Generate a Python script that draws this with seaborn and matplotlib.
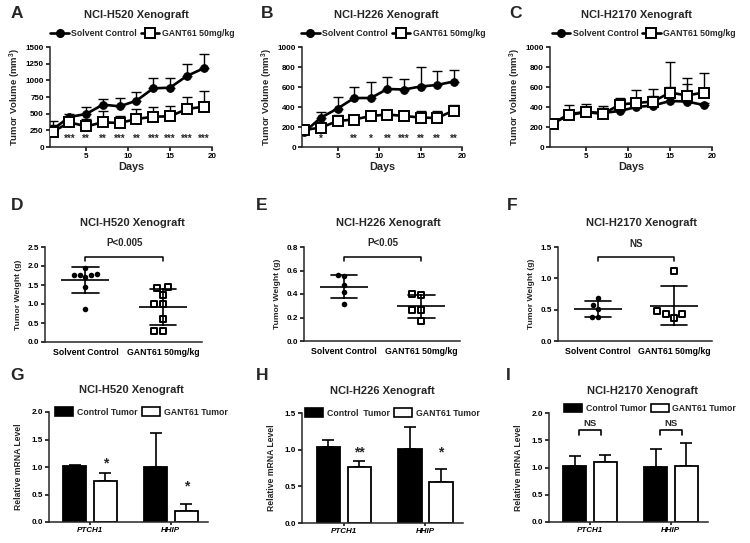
import numpy as np
import pandas as pd
import matplotlib
matplotlib.use("Agg")
import matplotlib.pyplot as plt
from matplotlib.patches import Patch
from matplotlib.lines import Line2D
import seaborn as sns

# ---------------- data ----------------
days = [1, 3, 5, 7, 9, 11, 13, 15, 17, 19]
series_names = ["Solvent Control", "GANT61 50mg/kg"]

a_ctrl = [260, 450, 495, 635, 610, 695, 880, 890, 1065, 1180]
a_ctrl_sd = [135, 40, 100, 90, 120, 130, 150, 140, 180, 210]
a_gant = [225, 370, 310, 370, 360, 420, 455, 460, 570, 605]
a_gant_sd = [110, 30, 110, 165, 110, 150, 145, 150, 180, 235]
a_star_days = [3, 5, 7, 9, 11, 13, 15, 17, 19]
a_stars = ["***", "**", "**", "***", "**", "***", "***", "***", "***"]

b_ctrl = [150, 295, 385, 490, 490, 580, 575, 605, 620, 655]
b_ctrl_sd = [20, 55, 120, 110, 165, 125, 105, 195, 140, 120]
b_gant = [170, 195, 260, 275, 310, 325, 310, 295, 290, 365]
b_gant_sd = [20, 20, 60, 45, 50, 20, 20, 65, 75, 55]
b_star_days = [3, 7, 9, 11, 13, 15, 17, 19]
b_stars = ["*", "**", "*", "**", "***", "**", "**", "**"]

c_ctrl = [235, 330, 350, 340, 360, 400, 415, 460, 455, 420]
c_ctrl_sd = [20, 45, 50, 75, 45, 40, 95, 140, 175, 25]
c_gant = [235, 320, 350, 330, 425, 440, 455, 545, 515, 545]
c_gant_sd = [20, 105, 85, 60, 65, 135, 130, 305, 175, 195]

groups = ["Solvent Control", "GANT61 50mg/kg"]
d_ctrl = [1.945, 1.78, 1.76, 1.72, 1.76, 1.76, 1.44, 0.87]
d_gant = [1.42, 1.45, 1.25, 1.00, 1.00, 0.61, 0.28, 0.30]
e_ctrl = [0.56, 0.55, 0.476, 0.417, 0.315]
e_gant = [0.39, 0.40, 0.26, 0.26, 0.17]
f_ctrl = [0.68, 0.57, 0.51, 0.39, 0.39]
f_gant = [1.12, 0.476, 0.43, 0.43, 0.365]

genes = ["PTCH1", "HHIP"]
g_ctrl = [1.01, 1.00]
g_ctrl_sd = [0.02, 0.62]
g_gant = [0.75, 0.195]
g_gant_sd = [0.15, 0.135]
h_ctrl = [1.04, 1.01]
h_ctrl_sd = [0.09, 0.30]
h_gant = [0.77, 0.555]
h_gant_sd = [0.07, 0.185]
i_ctrl = [1.03, 1.015]
i_ctrl_sd = [0.18, 0.325]
i_gant = [1.11, 1.03]
i_gant_sd = [0.12, 0.42]

# ---------------- style ----------------
sns.set_style("ticks")
plt.rcParams["font.family"] = ["Liberation Sans", "DejaVu Sans"]
plt.rcParams["font.weight"] = "bold"
plt.rcParams["axes.labelweight"] = "bold"
plt.rcParams["mathtext.default"] = "regular"
plt.rcParams["axes.linewidth"] = 1.1
plt.rcParams["xtick.major.width"] = 1.1
plt.rcParams["ytick.major.width"] = 1.1
plt.rcParams["xtick.major.size"] = 3
plt.rcParams["ytick.major.size"] = 3
plt.rcParams["xtick.major.pad"] = 1.5
plt.rcParams["ytick.major.pad"] = 1.5

W, H = 750, 543
fig = plt.figure(figsize=(W / 100, H / 100), dpi=100)


def ax_at(l, t, r, b):
    return fig.add_axes([l / W, 1 - b / H, (r - l) / W, (b - t) / H])


def letter(x, y, s):
    fig.text(x / W, 1 - y / H, s, fontsize=12.5, fontweight="bold", ha="center", va="center")


TICK_FS = 5.8
TITLE_FS = 8
LEG_FS = 6.3


def style_axes(ax, tick_fs=TICK_FS):
    sns.despine(ax=ax)
    ax.tick_params(labelsize=tick_fs, colors="black")
    for lab in ax.get_xticklabels() + ax.get_yticklabels():
        lab.set_fontweight("bold")


# ---------------- top row: growth curves ----------------
def growth(ax, ctrl, ctrl_sd, gant, gant_sd, ymax, ystep, title, tx, lx, stars_days=None, stars=None, star_y=0):
    df = pd.DataFrame({"day": days, "ctrl": ctrl, "gant": gant})
    ax.errorbar(days, ctrl, yerr=[np.zeros(len(days)), ctrl_sd], fmt="none", ecolor="black",
                elinewidth=1.0, capsize=3.5, capthick=1.0, zorder=1)
    ax.errorbar(days, gant, yerr=[np.zeros(len(days)), gant_sd], fmt="none", ecolor="black",
                elinewidth=1.0, capsize=3.5, capthick=1.0, zorder=1)
    sns.lineplot(data=df, x="day", y="ctrl", ax=ax, color="black", linewidth=1.9, marker="o",
                 markersize=5.5, markeredgecolor="black", markerfacecolor="black", zorder=3)
    sns.lineplot(data=df, x="day", y="gant", ax=ax, color="black", linewidth=1.9, marker="s",
                 markersize=7.2, markeredgecolor="black", markerfacecolor="white",
                 markeredgewidth=1.4, zorder=4)
    ax.set_xlim(0.7, 20)
    ax.set_ylim(0, ymax)
    ax.set_xticks([5, 10, 15, 20])
    ax.set_yticks(np.arange(0, ymax + 1, ystep))
    ax.set_xlabel("Days", fontsize=7.8, labelpad=1)
    ax.set_ylabel("Tumor Volume (mm$^3$)", fontsize=6.8, labelpad=2)
    style_axes(ax)
    ax.set_title(title, fontsize=TITLE_FS, fontweight="bold", x=tx, y=1.29, pad=0)
    handles = [Line2D([], [], color="black", lw=1.9, marker="o", markersize=5.5),
               Line2D([], [], color="black", lw=1.9, marker="s", markersize=7.2,
                      markerfacecolor="white", markeredgewidth=1.4)]
    ax.legend(handles, series_names, ncol=2, loc="center", bbox_to_anchor=(lx, 1.13),
              frameon=False, handlelength=2.1, handletextpad=0.3,
              columnspacing=0.4, borderaxespad=0, prop={"weight": "bold", "size": LEG_FS})
    if stars_days is not None:
        for d, s in zip(stars_days, stars):
            ax.text(d, star_y, s, ha="center", va="center", fontsize=7, fontweight="bold")


axA = ax_at(50, 47, 212, 147)
growth(axA, a_ctrl, a_ctrl_sd, a_gant, a_gant_sd, 1500, 250, "NCI-H520 Xenograft", 0.535, 0.57,
       a_star_days, a_stars, 125)
axB = ax_at(302, 47, 462, 147)
growth(axB, b_ctrl, b_ctrl_sd, b_gant, b_gant_sd, 1000, 200, "NCI-H226 Xenograft", 0.53, 0.57,
       b_star_days, b_stars, 85)
axC = ax_at(550, 47, 712, 147)
growth(axC, c_ctrl, c_ctrl_sd, c_gant, c_gant_sd, 1000, 200, "NCI-H2170 Xenograft", 0.535, 0.58)


# ---------------- middle row: tumor weights ----------------
def weights(ax, ctrl, gant, ymax, ystep, title, tx, br_y, br_h, ptxt, fmt):
    df = pd.DataFrame({"group": [groups[0]] * len(ctrl) + [groups[1]] * len(gant),
                       "w": list(ctrl) + list(gant)})
    sns.swarmplot(data=df[df.group == groups[0]], x="group", y="w", order=groups, ax=ax,
                  color="black", size=4.0, marker="o", linewidth=0, zorder=3)
    sns.swarmplot(data=df[df.group == groups[1]], x="group", y="w", order=groups, ax=ax,
                  color="white", edgecolor="black", size=5.0, marker="s", linewidth=1.4, zorder=3)
    sns.pointplot(data=df, x="group", y="w", order=groups, ax=ax, errorbar="sd", capsize=0.34,
                  color="black", marker="_", markersize=34, markeredgewidth=1.2,
                  linestyle="none", err_kws={"linewidth": 1.2}, zorder=4)
    ax.set_xlim(-0.52, 1.5)
    ax.set_ylim(0, ymax)
    ax.set_yticks(np.arange(0, ymax + 1e-9, ystep))
    ax.yaxis.set_major_formatter(plt.FormatStrFormatter(fmt))
    ax.set_xlabel("")
    ax.set_ylabel("Tumor Weight (g)", fontsize=6.1, labelpad=4)
    style_axes(ax, 5.9)
    ax.tick_params(axis="x", length=0, labelsize=6.3, pad=4)
    for lab in ax.get_xticklabels():
        lab.set_fontweight("bold")
    ax.set_title(title, fontsize=TITLE_FS, fontweight="bold", x=tx, y=1.22, pad=0)
    ax.plot([0, 0, 1, 1], [br_y - br_h, br_y, br_y, br_y - br_h], color="black", lw=1.1,
            clip_on=False)
    ax.text(0.5, br_y + br_h * 2.0, ptxt, ha="center", va="bottom", fontsize=7,
            fontweight="bold", clip_on=False)


axD = ax_at(45, 247, 202, 342)
weights(axD, d_ctrl, d_gant, 2.5, 0.5, "NCI-H520 Xenograft", 0.56, 2.24, 0.12, "P<0.005", "%.1f")
axE = ax_at(304, 247, 460, 341)
weights(axE, e_ctrl, e_gant, 0.8, 0.2, "NCI-H226 Xenograft", 0.54, 0.715, 0.037, "P<0.05", "%.1f")
axF = ax_at(558, 247, 712, 341)
weights(axF, f_ctrl, f_gant, 1.5, 0.5, "NCI-H2170 Xenograft", 0.54, 1.34, 0.068, "NS", "%.1f")


# ---------------- bottom row: mRNA ----------------
def mrna(ax, ctrl, ctrl_sd, gant, gant_sd, ymax, title, tx, lx, ly, legend_labels,
         stars=None, ns=None):
    df = pd.DataFrame({"gene": genes * 2,
                       "group": ["Control"] * 2 + ["GANT61"] * 2,
                       "val": list(ctrl) + list(gant)})
    sns.barplot(data=df, x="gene", y="val", hue="group", order=genes,
                hue_order=["Control", "GANT61"], palette=["black", "white"], ax=ax,
                edgecolor="black", linewidth=1.3, width=0.76, gap=0.25, errorbar=None,
                legend=False, zorder=2)
    sds = [ctrl_sd, gant_sd]
    centers = []
    for cont, vals, sd in zip(ax.containers, [ctrl, gant], sds):
        xs = [p.get_x() + p.get_width() / 2 for p in cont.patches]
        centers.append(xs)
        ax.errorbar(xs, vals, yerr=[np.zeros(len(vals)), sd], fmt="none", ecolor="black",
                    elinewidth=1.2, capsize=4.3, capthick=1.2, zorder=1)
    ax.set_xlim(-0.51, 1.46)
    ax.set_ylim(0, ymax)
    ax.set_yticks(np.arange(0, ymax + 1e-9, 0.5))
    ax.yaxis.set_major_formatter(plt.FormatStrFormatter("%.1f"))
    ax.set_xlabel("")
    ax.set_ylabel("Relative mRNA Level", fontsize=6.2, labelpad=6)
    style_axes(ax, 5.9)
    ax.tick_params(axis="x", length=2.5, labelsize=5.8, pad=1)
    for lab in ax.get_xticklabels():
        lab.set_fontweight("bold")
        lab.set_fontstyle("italic")
    ax.set_title(title, fontsize=TITLE_FS, fontweight="bold", x=tx, y=1.17, pad=0)
    handles = [Patch(facecolor="black", edgecolor="black", lw=1.2),
               Patch(facecolor="white", edgecolor="black", lw=1.2)]
    ax.legend(handles, legend_labels, ncol=2, loc="center", bbox_to_anchor=(lx, ly),
              frameon=False, handlelength=2.1, handleheight=1.1, handletextpad=0.4,
              columnspacing=0.5, borderaxespad=0, prop={"weight": "bold", "size": LEG_FS})
    if stars is not None:
        for gi, (s, y) in enumerate(stars):
            ax.text(centers[1][gi], y, s, ha="center", va="center", fontsize=10,
                    fontweight="bold")
    if ns is not None:
        for gi in range(len(genes)):
            c = (centers[0][gi] + centers[1][gi]) / 2
            x0, x1 = c - 0.14, c + 0.14
            ax.plot([x0, x0, x1, x1], [ns - 0.09, ns, ns, ns - 0.09], color="black", lw=1.2)
            ax.text(c, ns + 0.04, "NS", ha="center", va="bottom", fontsize=6.8, fontweight="bold")


axG = ax_at(49, 412, 208, 522)
mrna(axG, g_ctrl, g_ctrl_sd, g_gant, g_gant_sd, 2.0, "NCI-H520 Xenograft", 0.52, 0.58, 1.0,
     ["Control Tumor", "GANT61 Tumor"], stars=[("*", 1.06), ("*", 0.64)])
axH = ax_at(302, 413, 463, 523)
mrna(axH, h_ctrl, h_ctrl_sd, h_gant, h_gant_sd, 1.5, "NCI-H226 Xenograft", 0.5, 0.56, 1.0,
     ["Control  Tumor", "GANT61 Tumor"], stars=[("**", 0.96), ("*", 0.96)])
axI = ax_at(549, 413, 708, 522)
mrna(axI, i_ctrl, i_ctrl_sd, i_gant, i_gant_sd, 2.0, "NCI-H2170 Xenograft", 0.585, 0.635, 1.04,
     ["Control Tumor", "GANT61 Tumor"], ns=1.68)

# panel letters
for (x, y, s) in [(17, 14, "A"), (267, 14, "B"), (516, 14, "C"),
                  (17, 206, "D"), (262, 206, "E"), (512, 206, "F"),
                  (17, 375, "G"), (262, 375, "H"), (508, 375, "I")]:
    letter(x, y, s)

fig.savefig("out.png", dpi=100)
